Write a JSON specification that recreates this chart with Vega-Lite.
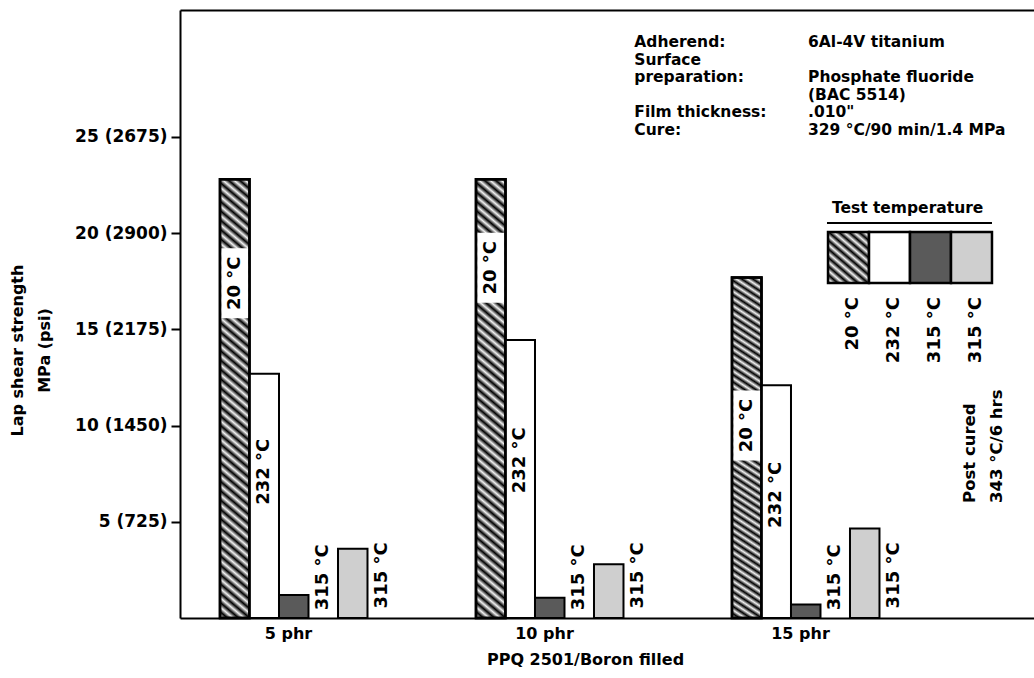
{
  "$schema": "https://vega.github.io/schema/vega-lite/v6.json",
  "width": 854,
  "height": 608,
  "autosize": {"type": "none"},
  "padding": {"left": 180, "top": 10, "right": 0, "bottom": 60},
  "background": "white",
  "config": {
    "view": {"stroke": null},
    "font": "DejaVu Sans",
    "text": {"font": "DejaVu Sans", "fontWeight": "bold", "color": "#000"},
    "axis": {"grid": false, "domainColor": "#000", "domainWidth": 2, "labelColor": "#000", "titleColor": "#000", "tickColor": "#000"}
  },
  "datasets": {
    "bars": [
      {"group": "5 phr", "temp": "20 °C", "value": 22.8, "label_at": 17.4},
      {"group": "5 phr", "temp": "232 °C", "value": 12.7, "label_at": 7.6},
      {"group": "5 phr", "temp": "315 °C", "value": 1.2},
      {"group": "5 phr", "temp": "315 °C post-cured", "value": 3.6},
      {"group": "10 phr", "temp": "20 °C", "value": 22.8, "label_at": 18.2},
      {"group": "10 phr", "temp": "232 °C", "value": 14.45, "label_at": 8.2},
      {"group": "10 phr", "temp": "315 °C", "value": 1.05},
      {"group": "10 phr", "temp": "315 °C post-cured", "value": 2.8},
      {"group": "15 phr", "temp": "20 °C", "value": 17.7, "label_at": 10.0},
      {"group": "15 phr", "temp": "232 °C", "value": 12.1, "label_at": 6.4},
      {"group": "15 phr", "temp": "315 °C", "value": 0.7},
      {"group": "15 phr", "temp": "315 °C post-cured", "value": 4.65}
    ]
  },
  "resolve": {"scale": {"x": "independent"}, "axis": {"x": "independent"}},
  "layer": [
    {
      "data": {"name": "bars"},
      "layer": [
        {
          "transform": [{"filter": "datum.temp === '20 °C'"}],
          "mark": {
            "type": "bar",
            "stroke": "#000",
            "strokeWidth": 2.5,
            "fill": {
              "gradient": "linear", "x1": 1, "y1": 0, "x2": 0.94, "y2": 1.06,
              "stops": [
                {"offset": 0, "color": "#000"}, {"offset": 0.01, "color": "#f2f2f2"}, {"offset": 0.02, "color": "#000"}, {"offset": 0.03, "color": "#f2f2f2"}, {"offset": 0.04, "color": "#000"}, {"offset": 0.05, "color": "#f2f2f2"}, {"offset": 0.06, "color": "#000"}, {"offset": 0.07, "color": "#f2f2f2"}, {"offset": 0.08, "color": "#000"}, {"offset": 0.09, "color": "#f2f2f2"},
                {"offset": 0.10, "color": "#000"}, {"offset": 0.11, "color": "#f2f2f2"}, {"offset": 0.12, "color": "#000"}, {"offset": 0.13, "color": "#f2f2f2"}, {"offset": 0.14, "color": "#000"}, {"offset": 0.15, "color": "#f2f2f2"}, {"offset": 0.16, "color": "#000"}, {"offset": 0.17, "color": "#f2f2f2"}, {"offset": 0.18, "color": "#000"}, {"offset": 0.19, "color": "#f2f2f2"},
                {"offset": 0.20, "color": "#000"}, {"offset": 0.21, "color": "#f2f2f2"}, {"offset": 0.22, "color": "#000"}, {"offset": 0.23, "color": "#f2f2f2"}, {"offset": 0.24, "color": "#000"}, {"offset": 0.25, "color": "#f2f2f2"}, {"offset": 0.26, "color": "#000"}, {"offset": 0.27, "color": "#f2f2f2"}, {"offset": 0.28, "color": "#000"}, {"offset": 0.29, "color": "#f2f2f2"},
                {"offset": 0.30, "color": "#000"}, {"offset": 0.31, "color": "#f2f2f2"}, {"offset": 0.32, "color": "#000"}, {"offset": 0.33, "color": "#f2f2f2"}, {"offset": 0.34, "color": "#000"}, {"offset": 0.35, "color": "#f2f2f2"}, {"offset": 0.36, "color": "#000"}, {"offset": 0.37, "color": "#f2f2f2"}, {"offset": 0.38, "color": "#000"}, {"offset": 0.39, "color": "#f2f2f2"},
                {"offset": 0.40, "color": "#000"}, {"offset": 0.41, "color": "#f2f2f2"}, {"offset": 0.42, "color": "#000"}, {"offset": 0.43, "color": "#f2f2f2"}, {"offset": 0.44, "color": "#000"}, {"offset": 0.45, "color": "#f2f2f2"}, {"offset": 0.46, "color": "#000"}, {"offset": 0.47, "color": "#f2f2f2"}, {"offset": 0.48, "color": "#000"}, {"offset": 0.49, "color": "#f2f2f2"},
                {"offset": 0.50, "color": "#000"}, {"offset": 0.51, "color": "#f2f2f2"}, {"offset": 0.52, "color": "#000"}, {"offset": 0.53, "color": "#f2f2f2"}, {"offset": 0.54, "color": "#000"}, {"offset": 0.55, "color": "#f2f2f2"}, {"offset": 0.56, "color": "#000"}, {"offset": 0.57, "color": "#f2f2f2"}, {"offset": 0.58, "color": "#000"}, {"offset": 0.59, "color": "#f2f2f2"},
                {"offset": 0.60, "color": "#000"}, {"offset": 0.61, "color": "#f2f2f2"}, {"offset": 0.62, "color": "#000"}, {"offset": 0.63, "color": "#f2f2f2"}, {"offset": 0.64, "color": "#000"}, {"offset": 0.65, "color": "#f2f2f2"}, {"offset": 0.66, "color": "#000"}, {"offset": 0.67, "color": "#f2f2f2"}, {"offset": 0.68, "color": "#000"}, {"offset": 0.69, "color": "#f2f2f2"},
                {"offset": 0.70, "color": "#000"}, {"offset": 0.71, "color": "#f2f2f2"}, {"offset": 0.72, "color": "#000"}, {"offset": 0.73, "color": "#f2f2f2"}, {"offset": 0.74, "color": "#000"}, {"offset": 0.75, "color": "#f2f2f2"}, {"offset": 0.76, "color": "#000"}, {"offset": 0.77, "color": "#f2f2f2"}, {"offset": 0.78, "color": "#000"}, {"offset": 0.79, "color": "#f2f2f2"},
                {"offset": 0.80, "color": "#000"}, {"offset": 0.81, "color": "#f2f2f2"}, {"offset": 0.82, "color": "#000"}, {"offset": 0.83, "color": "#f2f2f2"}, {"offset": 0.84, "color": "#000"}, {"offset": 0.85, "color": "#f2f2f2"}, {"offset": 0.86, "color": "#000"}, {"offset": 0.87, "color": "#f2f2f2"}, {"offset": 0.88, "color": "#000"}, {"offset": 0.89, "color": "#f2f2f2"},
                {"offset": 0.90, "color": "#000"}, {"offset": 0.91, "color": "#f2f2f2"}, {"offset": 0.92, "color": "#000"}, {"offset": 0.93, "color": "#f2f2f2"}, {"offset": 0.94, "color": "#000"}, {"offset": 0.95, "color": "#f2f2f2"}, {"offset": 0.96, "color": "#000"}, {"offset": 0.97, "color": "#f2f2f2"}, {"offset": 0.98, "color": "#000"}, {"offset": 0.99, "color": "#f2f2f2"},
                {"offset": 1, "color": "#000"}
              ]
            }
          },
          "encoding": {
            "x": {
              "field": "group", "type": "nominal", "sort": ["5 phr", "10 phr", "15 phr"],
              "scale": {"paddingInner": 0.3086, "paddingOuter": 0.3223, "align": 0.2424},
              "title": "PPQ 2501/Boron filled",
              "axis": {
                "orient": "bottom", "ticks": false,
                "labelAngle": 0, "labelFont": "DejaVu Sans", "labelFontWeight": "bold", "labelFontSize": 16,
                "labelPadding": 7, "labelOffset": -20,
                "titleFont": "DejaVu Sans", "titleFontWeight": "bold", "titleFontSize": 16,
                "titlePadding": 10, "titleX": 405
              }
            },
            "xOffset": {
              "field": "temp", "type": "nominal",
              "scale": {"domain": ["20 °C", "232 °C", "315 °C", "lab315", "315 °C post-cured", "labpc"], "paddingInner": 0, "paddingOuter": 0}
            },
            "y": {
              "field": "value", "type": "quantitative",
              "scale": {"domain": [0, 31.6], "nice": false, "zero": true},
              "title": ["Lap shear strength", "MPa (psi)"],
              "axis": {
                "values": [5, 10, 15, 20, 25],
                "labelExpr": "datum.value == 5 ? '5 (725)' : datum.value == 10 ? '10 (1450)' : datum.value == 15 ? '15 (2175)' : datum.value == 20 ? '20 (2900)' : '25 (2675)'",
                "tickSize": 9, "tickWidth": 2,
                "labelFont": "DejaVu Sans", "labelFontWeight": "bold", "labelFontSize": 17, "labelPadding": 4,
                "titleFont": "DejaVu Sans", "titleFontWeight": "bold", "titleFontSize": 16,
                "titleLineHeight": 27, "titleAngle": 270, "titleAlign": "center", "titleBaseline": "middle",
                "titleX": -163, "titleY": 340
              }
            }
          }
        },
        {
          "transform": [{"filter": "datum.temp !== '20 °C'"}],
          "mark": {"type": "bar", "stroke": "#000", "strokeWidth": 2},
          "encoding": {
            "x": {"field": "group", "type": "nominal", "sort": ["5 phr", "10 phr", "15 phr"]},
            "xOffset": {"field": "temp", "type": "nominal"},
            "y": {"field": "value", "type": "quantitative"},
            "fill": {
              "field": "temp", "type": "nominal", "legend": null,
              "scale": {"domain": ["232 °C", "315 °C", "315 °C post-cured"], "range": ["#ffffff", "#5a5a5a", "#cfcfcf"]}
            }
          }
        },
        {
          "transform": [{"filter": "datum.temp === '20 °C'"}],
          "mark": {"type": "tick", "orient": "horizontal", "thickness": 70, "size": 27, "color": "#fff", "opacity": 1},
          "encoding": {
            "x": {"field": "group", "type": "nominal", "sort": ["5 phr", "10 phr", "15 phr"]},
            "xOffset": {"field": "temp", "type": "nominal"},
            "y": {"field": "label_at", "type": "quantitative"}
          }
        },
        {
          "transform": [{"filter": "datum.temp === '20 °C'"}],
          "mark": {"type": "bar", "fill": null, "fillOpacity": 0, "stroke": "#000", "strokeWidth": 2.5},
          "encoding": {
            "x": {"field": "group", "type": "nominal", "sort": ["5 phr", "10 phr", "15 phr"]},
            "xOffset": {"field": "temp", "type": "nominal"},
            "y": {"field": "value", "type": "quantitative"}
          }
        },
        {
          "transform": [{"filter": "datum.temp === '20 °C' || datum.temp === '232 °C'"}],
          "mark": {"type": "text", "angle": 270, "align": "center", "baseline": "middle", "fontSize": 18, "fontWeight": "bold", "fill": "#000"},
          "encoding": {
            "x": {"field": "group", "type": "nominal", "sort": ["5 phr", "10 phr", "15 phr"]},
            "xOffset": {"field": "temp", "type": "nominal"},
            "y": {"field": "label_at", "type": "quantitative"},
            "text": {"field": "temp"}
          }
        },
        {
          "transform": [{"filter": "datum.temp === '315 °C'"}],
          "mark": {"type": "text", "angle": 270, "align": "left", "baseline": "middle", "fontSize": 18, "fontWeight": "bold", "fill": "#000"},
          "encoding": {
            "x": {"field": "group", "type": "nominal", "sort": ["5 phr", "10 phr", "15 phr"]},
            "xOffset": {"datum": "lab315", "type": "nominal"},
            "y": {"datum": 0.4, "type": "quantitative"},
            "text": {"field": "temp"}
          }
        },
        {
          "transform": [{"filter": "datum.temp === '315 °C post-cured'"}],
          "mark": {"type": "text", "text": "315 °C", "angle": 270, "align": "left", "baseline": "middle", "fontSize": 18, "fontWeight": "bold", "fill": "#000"},
          "encoding": {
            "x": {"field": "group", "type": "nominal", "sort": ["5 phr", "10 phr", "15 phr"]},
            "xOffset": {"datum": "labpc", "type": "nominal"},
            "y": {"datum": 0.5, "type": "quantitative"}
          }
        }
      ]
    },
    {
      "data": {"values": [{}]},
      "layer": [
        {
          "mark": {"type": "text", "text": "Test temperature", "fontSize": 15.5, "fontWeight": "bold", "align": "center", "baseline": "middle"},
          "encoding": {
            "x": {"datum": 85.2, "type": "quantitative", "scale": {"domain": [0, 100], "nice": false, "zero": false},
                  "axis": {"orient": "top", "labels": false, "ticks": false, "title": null}},
            "y": {"datum": 21.31, "type": "quantitative"}
          }
        },
        {
          "mark": {"type": "rule", "stroke": "#000", "strokeWidth": 2},
          "encoding": {
            "x": {"datum": 75.76, "type": "quantitative"},
            "x2": {"datum": 95.08},
            "y": {"datum": 20.53, "type": "quantitative"}
          }
        },
        {
          "mark": {
            "type": "rect", "stroke": "#000", "strokeWidth": 2.5,
            "fill": {
              "gradient": "linear", "x1": 1, "y1": 0, "x2": 0.21, "y2": 1.15,
              "stops": [
                {"offset": 0, "color": "#000"}, {"offset": 0.05, "color": "#f2f2f2"}, {"offset": 0.1, "color": "#000"}, {"offset": 0.15, "color": "#f2f2f2"},
                {"offset": 0.2, "color": "#000"}, {"offset": 0.25, "color": "#f2f2f2"}, {"offset": 0.3, "color": "#000"}, {"offset": 0.35, "color": "#f2f2f2"},
                {"offset": 0.4, "color": "#000"}, {"offset": 0.45, "color": "#f2f2f2"}, {"offset": 0.5, "color": "#000"}, {"offset": 0.55, "color": "#f2f2f2"},
                {"offset": 0.6, "color": "#000"}, {"offset": 0.65, "color": "#f2f2f2"}, {"offset": 0.7, "color": "#000"}, {"offset": 0.75, "color": "#f2f2f2"},
                {"offset": 0.8, "color": "#000"}, {"offset": 0.85, "color": "#f2f2f2"}, {"offset": 0.9, "color": "#000"}, {"offset": 0.95, "color": "#f2f2f2"},
                {"offset": 1, "color": "#000"}
              ]
            }
          },
          "encoding": {
            "x": {"datum": 75.88, "type": "quantitative"},
            "x2": {"datum": 80.68},
            "y": {"datum": 20.06, "type": "quantitative"},
            "y2": {"datum": 17.41}
          }
        },
        {
          "mark": {"type": "rect", "stroke": "#000", "strokeWidth": 2.5, "fill": "#ffffff"},
          "encoding": {
            "x": {"datum": 80.68, "type": "quantitative"},
            "x2": {"datum": 85.48},
            "y": {"datum": 20.06, "type": "quantitative"},
            "y2": {"datum": 17.41}
          }
        },
        {
          "mark": {"type": "rect", "stroke": "#000", "strokeWidth": 2.5, "fill": "#5a5a5a"},
          "encoding": {
            "x": {"datum": 85.48, "type": "quantitative"},
            "x2": {"datum": 90.28},
            "y": {"datum": 20.06, "type": "quantitative"},
            "y2": {"datum": 17.41}
          }
        },
        {
          "mark": {"type": "rect", "stroke": "#000", "strokeWidth": 2.5, "fill": "#cfcfcf"},
          "encoding": {
            "x": {"datum": 90.28, "type": "quantitative"},
            "x2": {"datum": 95.08},
            "y": {"datum": 20.06, "type": "quantitative"},
            "y2": {"datum": 17.41}
          }
        },
        {
          "mark": {"type": "text", "text": "20 °C", "angle": 270, "align": "right", "baseline": "middle", "fontSize": 18, "fontWeight": "bold"},
          "encoding": {
            "x": {"datum": 78.8, "type": "quantitative"},
            "y": {"datum": 16.68, "type": "quantitative"}
          }
        },
        {
          "mark": {"type": "text", "text": "232 °C", "angle": 270, "align": "right", "baseline": "middle", "fontSize": 18, "fontWeight": "bold"},
          "encoding": {
            "x": {"datum": 83.6, "type": "quantitative"},
            "y": {"datum": 16.68, "type": "quantitative"}
          }
        },
        {
          "mark": {"type": "text", "text": "315 °C", "angle": 270, "align": "right", "baseline": "middle", "fontSize": 18, "fontWeight": "bold"},
          "encoding": {
            "x": {"datum": 88.4, "type": "quantitative"},
            "y": {"datum": 16.68, "type": "quantitative"}
          }
        },
        {
          "mark": {"type": "text", "text": "315 °C", "angle": 270, "align": "right", "baseline": "middle", "fontSize": 18, "fontWeight": "bold"},
          "encoding": {
            "x": {"datum": 93.2, "type": "quantitative"},
            "y": {"datum": 16.68, "type": "quantitative"}
          }
        },
        {
          "mark": {"type": "text", "text": ["Post cured", "343 °C/6 hrs"], "angle": 270, "align": "left", "baseline": "middle", "lineHeight": 27, "fontSize": 16.5, "fontWeight": "bold"},
          "encoding": {
            "x": {"datum": 92.5, "type": "quantitative"},
            "y": {"datum": 5.98, "type": "quantitative"}
          }
        },
        {
          "mark": {"type": "text", "text": ["Adherend:", "Surface", "preparation:"], "align": "left", "baseline": "top", "lineHeight": 17.6, "fontSize": 15.5, "fontWeight": "bold"},
          "encoding": {
            "x": {"datum": 53.2, "type": "quantitative"},
            "y": {"datum": 30.3, "type": "quantitative"}
          }
        },
        {
          "mark": {"type": "text", "text": ["Film thickness:", "Cure:"], "align": "left", "baseline": "top", "lineHeight": 17.6, "fontSize": 15.5, "fontWeight": "bold"},
          "encoding": {
            "x": {"datum": 53.2, "type": "quantitative"},
            "y": {"datum": 26.64, "type": "quantitative"}
          }
        },
        {
          "mark": {"type": "text", "text": "6Al-4V titanium", "align": "left", "baseline": "top", "fontSize": 15.5, "fontWeight": "bold"},
          "encoding": {
            "x": {"datum": 73.54, "type": "quantitative"},
            "y": {"datum": 30.3, "type": "quantitative"}
          }
        },
        {
          "mark": {"type": "text", "text": ["Phosphate fluoride", "(BAC 5514)", ".010\"", "329 °C/90 min/1.4 MPa"], "align": "left", "baseline": "top", "lineHeight": 17.6, "fontSize": 15.5, "fontWeight": "bold"},
          "encoding": {
            "x": {"datum": 73.54, "type": "quantitative"},
            "y": {"datum": 28.47, "type": "quantitative"}
          }
        }
      ]
    }
  ]
}
